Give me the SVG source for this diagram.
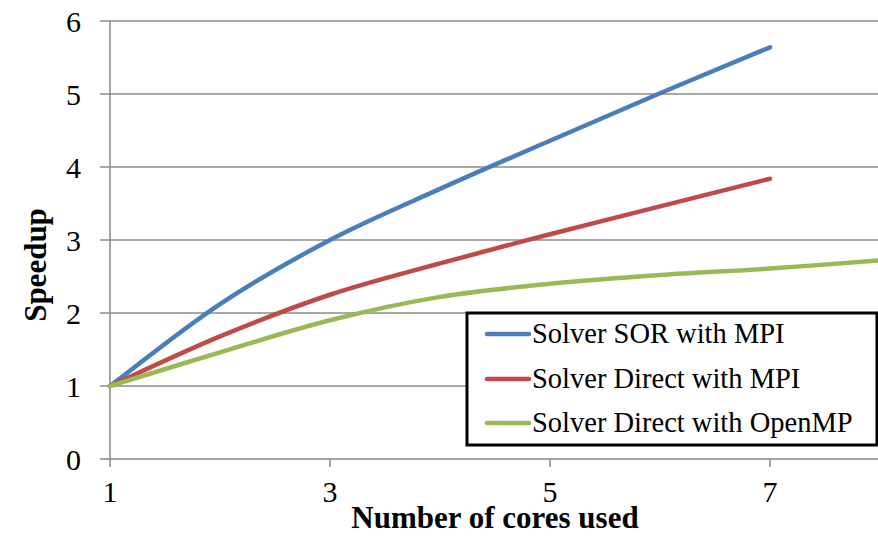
<svg xmlns="http://www.w3.org/2000/svg" width="878" height="536" viewBox="0 0 878 536">
<style>
.grid{stroke:#8c8c8c;stroke-width:1.5;fill:none}
.axis{stroke:#868686;stroke-width:1.5;fill:none}
.tick{font-family:"Liberation Serif","Times New Roman",serif;font-size:30px;fill:#000}
.title{font-family:"Liberation Serif","Times New Roman",serif;font-size:31px;font-weight:bold;fill:#000}
.leg{font-family:"Liberation Serif","Times New Roman",serif;font-size:28.5px;fill:#000}
.s{fill:none;stroke-width:4.5;stroke-linecap:round;stroke-linejoin:round}
.blue{stroke:#4A7EBB}.red{stroke:#BE4B48}.green{stroke:#98B954}
</style>
<rect width="878" height="536" fill="#fff"/>
<g id="grid">
<path class="grid" d="M100 21H878M100 94H878M100 167H878M100 240H878M100 313H878M100 386H878"/>
</g>
<g id="axes">
<path class="axis" d="M110 21V467M100 459H878M330 459V467M550 459V467M770 459V467"/>
</g>
<g id="ylabels" class="tick" text-anchor="end">
<text x="81" y="470">0</text>
<text x="81" y="397">1</text>
<text x="81" y="324">2</text>
<text x="81" y="251">3</text>
<text x="81" y="178">4</text>
<text x="81" y="105">5</text>
<text x="81" y="32">6</text>
</g>
<g id="xlabels" class="tick" text-anchor="middle">
<text x="110" y="502">1</text>
<text x="330" y="502">3</text>
<text x="550" y="502">5</text>
<text x="770" y="502">7</text>
</g>
<text class="title" x="495" y="528" text-anchor="middle">Number of cores used</text>
<text class="title" transform="translate(46 265) rotate(-90)" text-anchor="middle">Speedup</text>
<g id="series">
<path id="sor-mpi" class="s blue" d="M110 386C128.3 372.4 183.3 328.5 220 304.2C256.7 279.9 293.3 259.2 330 240C366.7 220.8 403.3 205.5 440 188.9C476.7 172.4 513.3 156.6 550 140.7C586.7 124.8 623.3 108.9 660 93.3C696.7 77.7 751.7 55 770 47.3"/>
<path id="direct-mpi" class="s red" d="M110 386C128.3 377.7 183.3 351.6 220 336.4C256.7 321.2 293.3 306.9 330 294.75C366.7 282.6 403.3 273.5 440 263.4C476.7 253.3 513.3 243.7 550 234.2C586.7 224.7 623.3 215.65 660 206.4C696.7 197.15 751.7 183.3 770 178.7"/>
<path id="direct-openmp" class="s green" d="M110 386C128.3 380.4 183.3 363.35 220 352.4C256.7 341.45 293.3 329.55 330 320.3C366.7 311.05 403.3 302.98 440 296.9C476.7 290.8 513.3 287.45 550 283.8C586.7 280.15 623.3 277.55 660 275C696.7 272.45 733.3 270.93 770 268.5C806.7 266.07 861.7 261.75 880 260.4"/>
</g>
<g id="legend">
<rect x="467" y="313" width="410" height="132" fill="#fff" stroke="#000" stroke-width="3"/>
<path class="s blue" stroke-width="4" d="M487 334H529"/>
<path class="s red" stroke-width="4" d="M487 379H529"/>
<path class="s green" stroke-width="4" d="M487 423H529"/>
<text class="leg" x="532" y="343">Solver SOR with MPI</text>
<text class="leg" x="532" y="388">Solver Direct with MPI</text>
<text class="leg" x="532" y="432">Solver Direct with OpenMP</text>
</g>
</svg>
